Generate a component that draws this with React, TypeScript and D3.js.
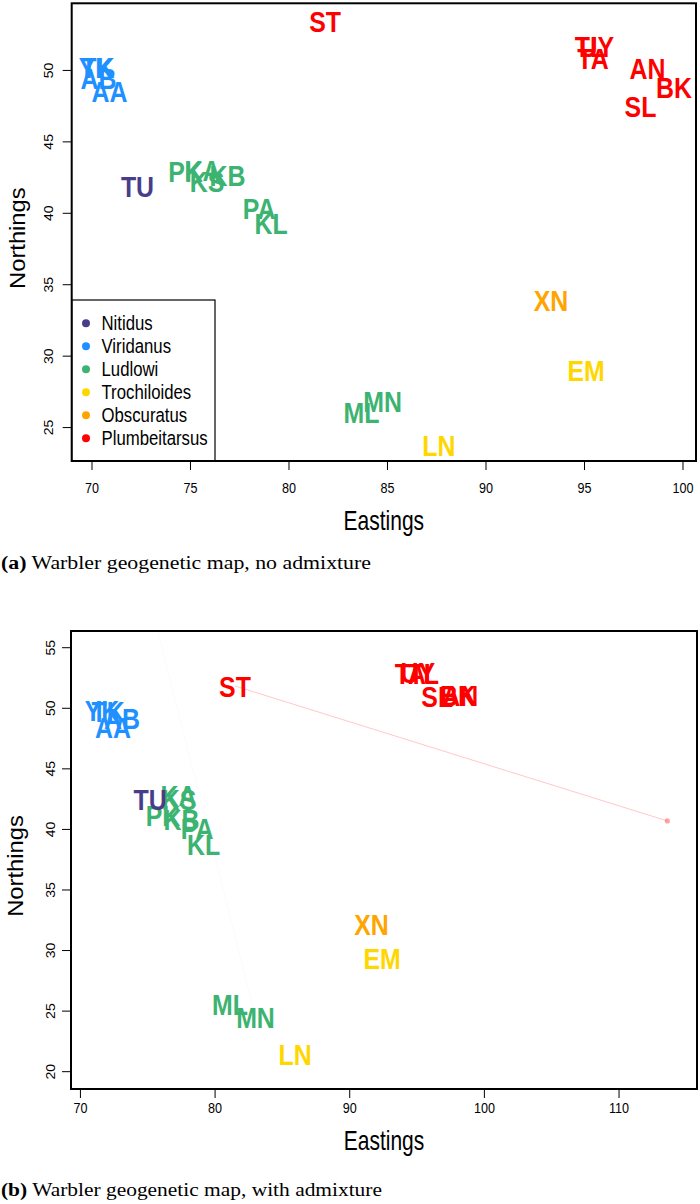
import React from "react";
import * as d3 from "d3";

// ---------- data ----------
const labels = ["YK","TK","AB","AA","PK","KA","KS","KB","PA","KL","ML","MN","TU","LN","EM","XN","ST","TL","UY","TA","AN","BK","SL"];
const groups = ["Viridanus","Viridanus","Viridanus","Viridanus","Ludlowi","Ludlowi","Ludlowi","Ludlowi","Ludlowi","Ludlowi","Ludlowi","Ludlowi","Nitidus","Trochiloides","Trochiloides","Obscuratus","Plumbeitarsus","Plumbeitarsus","Plumbeitarsus","Plumbeitarsus","Plumbeitarsus","Plumbeitarsus","Plumbeitarsus"];

// panel (a): no admixture
const eastA  = [70.20,70.30,70.33,70.89,74.75,75.61,75.84,76.88,78.48,79.09,83.68,84.75,72.31,87.61,95.08,93.30,81.83,95.28,95.63,95.43,98.20,99.54,97.84];
const northA = [50.21,50.21,49.44,48.53,42.97,43.00,42.24,42.66,40.38,39.30,26.05,26.85,41.89,23.78,29.02,33.92,53.43,51.68,51.68,50.84,50.17,48.85,47.48];

// panel (b): with admixture
const eastB  = [71.60,72.05,73.09,72.42,76.13,77.29,77.32,77.51,78.66,79.14,81.11,83.00,75.17,85.94,92.40,91.62,81.48,95.50,95.05,94.50,98.21,98.04,96.50];
const northB = [49.86,49.78,49.20,48.46,41.19,42.86,42.51,40.87,40.08,38.80,25.59,24.48,42.51,21.46,29.39,32.19,51.84,52.93,53.00,52.93,51.10,51.10,51.02];

// admixture sources (panel b)
const admixPop = ["ST","MN"];
const admixEast = [113.59, 72.88];
const admixNorth = [40.70, 69.03];
const admixAlpha = [0.22, 0.035];

const species = ["Nitidus","Viridanus","Ludlowi","Trochiloides","Obscuratus","Plumbeitarsus"];
const speciesColors = ["#483D8B","#1E90FF","#3CB371","#FFD700","#FFA500","#FF0000"];

const xTicksA = [70,75,80,85,90,95,100];
const yTicksA = [25,30,35,40,45,50];
const xTicksB = [70,80,90,100,110];
const yTicksB = [20,25,30,35,40,45,50,55];

const color = d3.scaleOrdinal<string,string>().domain(species).range(speciesColors);

const SANS = "'Liberation Sans', Arial, Helvetica, sans-serif";
const SERIF = "'Liberation Serif', 'Times New Roman', serif";

type PanelProps = {
  box: {l:number; r:number; t:number; b:number};
  xDom: [number,number]; yDom: [number,number];
  xTicks: number[]; yTicks: number[];
  east: number[]; north: number[];
  legend: boolean; admix: boolean;
  tickLabelY: number; titleY: number; yTickX: number; yTitleX: number;
  capLetter: string; capText: string; capY: number; capWidth: number;
};

function Panel(p: PanelProps) {
  const x = d3.scaleLinear().domain(p.xDom).range([p.box.l, p.box.r]);
  const y = d3.scaleLinear().domain(p.yDom).range([p.box.b, p.box.t]);
  const clipId = "clip" + p.capLetter;
  const midY = (p.box.t + p.box.b) / 2;
  const midX = (p.box.l + p.box.r) / 2;
  const sx = 0.83;
  return (
    <g>
      <defs>
        <clipPath id={clipId}>
          <rect x={p.box.l} y={p.box.t} width={p.box.r - p.box.l} height={p.box.b - p.box.t} />
        </clipPath>
      </defs>
      {p.admix && (
        <g clipPath={`url(#${clipId})`}>
          {admixPop.map((pop, i) => {
            const k = labels.indexOf(pop);
            const col = color(groups[k]);
            return (
              <g key={pop}>
                <line x1={x(p.east[k])} y1={y(p.north[k])} x2={x(admixEast[i])} y2={y(admixNorth[i])}
                  stroke={col} strokeOpacity={admixAlpha[i]} strokeWidth={1} />
                <circle cx={x(admixEast[i])} cy={y(admixNorth[i])} r={2.6} fill={col} fillOpacity={admixAlpha[i] * 1.6} />
              </g>
            );
          })}
        </g>
      )}
      {labels.map((lab, i) => (
        <text key={lab} transform={`translate(${x(p.east[i])},${y(p.north[i])}) scale(${sx},1)`}
          textAnchor="middle" dy="0.36em" fontFamily={SANS} fontWeight="bold" fontSize={30}
          fill={color(groups[i])}>{lab}</text>
      ))}
      {p.legend && (
        <g>
          <rect x={p.box.l} y={300} width={215 - p.box.l} height={p.box.b - 300} fill="white" stroke="black" strokeWidth={1.2} />
          {species.map((s, i) => (
            <g key={s} transform={`translate(0,${323.3 + i * 23})`}>
              <circle cx={86} cy={0} r={4} fill={speciesColors[i]} />
              <text transform={`translate(101.5,0) scale(0.86,1)`} dy="0.36em" fontFamily={SANS} fontSize={19.5} fill="black">{s}</text>
            </g>
          ))}
        </g>
      )}
      <rect x={p.box.l} y={p.box.t} width={p.box.r - p.box.l} height={p.box.b - p.box.t} fill="none" stroke="black" strokeWidth={2} />
      {p.xTicks.map(t => (
        <g key={"x" + t}>
          <line x1={x(t)} x2={x(t)} y1={p.box.b} y2={p.box.b + 9} stroke="black" strokeWidth={1} />
          <text transform={`translate(${x(t)},${p.tickLabelY}) scale(0.9,1)`} textAnchor="middle" dy="0.36em"
            fontFamily={SANS} fontSize={14} fill="black">{t}</text>
        </g>
      ))}
      {p.yTicks.map(t => (
        <g key={"y" + t}>
          <line x1={p.box.l - 9} x2={p.box.l} y1={y(t)} y2={y(t)} stroke="black" strokeWidth={1} />
          <text transform={`translate(${p.yTickX},${y(t)}) rotate(-90) scale(1,0.9)`} textAnchor="middle" dy="0.36em"
            fontFamily={SANS} fontSize={14} fill="black">{t}</text>
        </g>
      ))}
      <text transform={`translate(${midX},${p.titleY}) scale(0.75,1)`} textAnchor="middle" dy="0.36em"
        fontFamily={SANS} fontSize={28} fill="black">Eastings</text>
      <text transform={`translate(${p.yTitleX},${midY + 6}) rotate(-90) scale(0.95,0.85)`} textAnchor="middle" dy="0.36em"
        fontFamily={SANS} fontSize={25} fill="black">Northings</text>
      <text x={1} y={p.capY} dy="0.36em" fontFamily={SERIF} fontSize={18} fill="black"
        textLength={p.capWidth} lengthAdjust="spacingAndGlyphs">
        <tspan fontWeight="bold">({p.capLetter})</tspan> {p.capText}
      </text>
    </g>
  );
}

export default function App() {
  return (
    <svg width={700} height={1204} style={{ position: "absolute", left: 0, top: 0, background: "white" }}>
      <rect x={0} y={0} width={700} height={1204} fill="white" />
      <Panel box={{ l: 71.7, r: 696, t: 3.3, b: 461 }} xDom={[68.97, 100.66]} yDom={[22.66, 54.7]}
        xTicks={xTicksA} yTicks={yTicksA} east={eastA} north={northA} legend={true} admix={false}
        tickLabelY={488} titleY={520} yTickX={48} yTitleX={17}
        capLetter="a" capText="Warbler geogenetic map, no admixture" capY={563} capWidth={370} />
      <Panel box={{ l: 71, r: 697, t: 631, b: 1089 }} xDom={[69.30, 115.79]} yDom={[18.57, 56.38]}
        xTicks={xTicksB} yTicks={yTicksB} east={eastB} north={northB} legend={false} admix={true}
        tickLabelY={1108} titleY={1140} yTickX={50} yTitleX={15}
        capLetter="b" capText="Warbler geogenetic map, with admixture" capY={1190} capWidth={381} />
    </svg>
  );
}
